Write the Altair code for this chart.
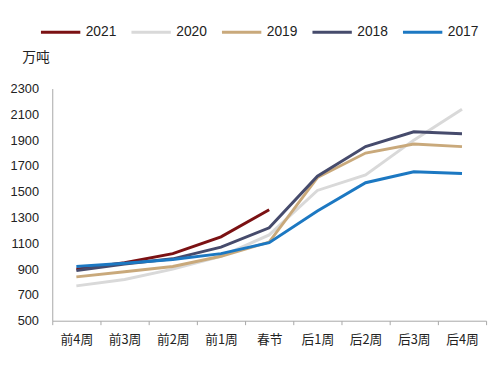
import altair as alt
import pandas as pd

weeks = ["前4周", "前3周", "前2周", "前1周", "春节", "后1周", "后2周", "后3周", "后4周"]
years = ["2021", "2020", "2019", "2018", "2017"]
colors = ["#7B1113", "#D9D9D9", "#C9A97B", "#464B6C", "#1C78C2"]

v2021 = [900, 950, 1020, 1150, 1360, None, None, None, None]
v2020 = [770, 820, 900, 1000, 1165, 1510, 1630, 1900, 2140]
v2019 = [840, 880, 920, 1000, 1110, 1610, 1800, 1870, 1850]
v2018 = [890, 940, 980, 1070, 1220, 1620, 1850, 1965, 1950]
v2017 = [920, 945, 975, 1020, 1105, 1350, 1570, 1655, 1642]

rows = []
for y, vals in zip(years, [v2021, v2020, v2019, v2018, v2017]):
    for w, v in zip(weeks, vals):
        if v is not None:
            rows.append({"week": w, "year": y, "value": v})
df = pd.DataFrame(rows)

chart = alt.Chart(df).mark_line(strokeWidth=3).encode(
    x=alt.X("week:N", sort=weeks,
            scale=alt.Scale(type="band", paddingInner=0, paddingOuter=0),
            axis=alt.Axis(title=None, tickBand="extent", labelAngle=0,
                          labelFont="Noto Sans CJK SC", labelFontSize=13,
                          labelColor="#222", domainColor="#A6A6A6",
                          tickColor="#A6A6A6", tickSize=4, labelPadding=9,
                          grid=False)),
    y=alt.Y("value:Q", scale=alt.Scale(domain=[500, 2300], nice=False),
            axis=alt.Axis(values=list(range(500, 2301, 200)), format="d", title="万吨",
                          titleAngle=0, titleAlign="left", titleBaseline="middle",
                          titleX=-31, titleY=-32, titleFont="Noto Sans CJK SC",
                          titleFontSize=14, titleFontWeight="normal", titleColor="#222",
                          labelFont="Liberation Sans", labelFontSize=13,
                          labelColor="#222", ticks=False, labelPadding=14,
                          domainColor="#A6A6A6", grid=False)),
    color=alt.Color("year:N", sort=years,
                    scale=alt.Scale(domain=years, range=colors),
                    legend=alt.Legend(title=None, orient="none", direction="horizontal",
                                      legendX=-13, legendY=-79,
                                      symbolType="stroke", symbolSize=1600,
                                      symbolStrokeWidth=3, labelFontSize=14,
                                      labelFont="Liberation Sans", labelColor="#222",
                                      columnPadding=8, labelOffset=4)),
).properties(
    width=441, height=236,
    autosize=alt.AutoSizeParams(type="none"),
    padding={"left": 45, "top": 79, "right": 6, "bottom": 35},
).configure_view(stroke=None)

chart.save("out.html", embed_options={"renderer": "svg", "actions": False})
